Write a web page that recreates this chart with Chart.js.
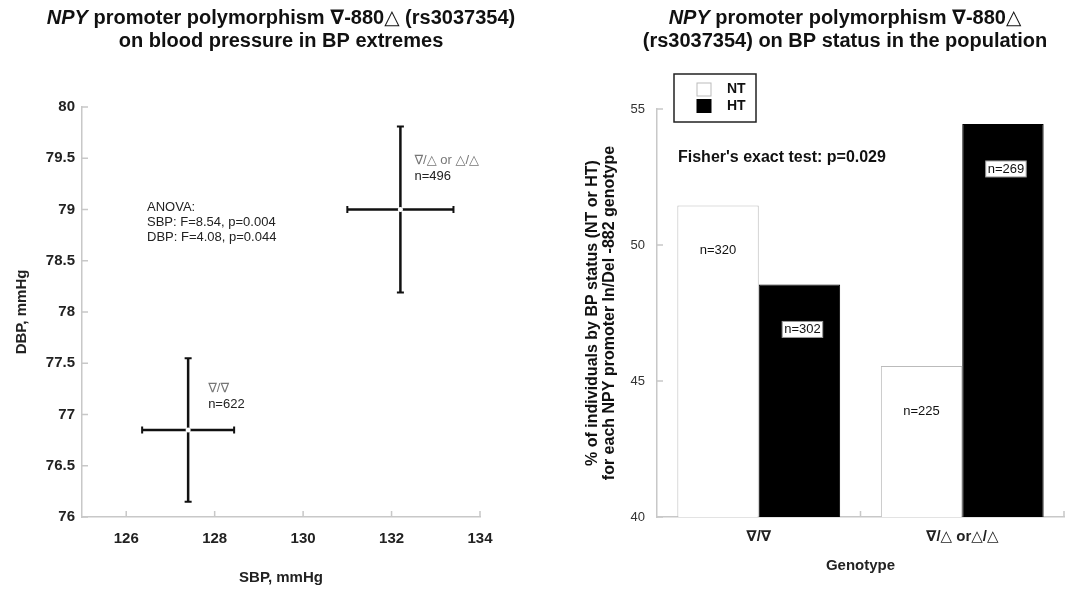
<!DOCTYPE html>
<html lang="en">
<head>
<meta charset="UTF-8">
<title>NPY promoter polymorphism -880 and blood pressure</title>
<script src="https://cdn.jsdelivr.net/npm/chart.js"></script>
<style>
    * { margin: 0; padding: 0; box-sizing: border-box; }
    body { background: #fff; width: 1065px; height: 590px; position: relative; overflow: hidden; }
    #bpChart { position: absolute; left: 0; top: 0; }
    #statusChart { position: absolute; left: 540px; top: 0; }
</style>
</head>
<body>
<canvas id="bpChart" width="540" height="590"></canvas>
<canvas id="statusChart" width="525" height="590"></canvas>
<script>
const FONT = '"Liberation Sans", Arial, "DejaVu Sans", sans-serif';

// left panel: mean SBP / DBP (with error) per genotype group
const groups = ['∇/∇', '∇/△ or △/△'];
const groupN = [622, 496];
const sbpMean = [127.4, 132.2];
const sbpErr = [1.04, 1.2];
const dbpMean = [76.85, 79.0];
const dbpErr = [0.7, 0.81];
const sbpTicks = [126, 128, 130, 132, 134];
const dbpTicks = [76, 76.5, 77, 77.5, 78, 78.5, 79, 79.5, 80];
const anovaLines = ['ANOVA:', 'SBP: F=8.54, p=0.004', 'DBP: F=4.08, p=0.044'];

// right panel: % NT / HT within each genotype
const genotypes = ['∇/∇', '∇/△ or△/△'];
const ntPct = [51.45, 45.55];
const htPct = [48.55, 54.45];
const ntN = [320, 225];
const htN = [302, 269];
const pctTicks = [40, 45, 50, 55];

const AXIS_GRAY = '#c8c8c8';

// title with italic "NPY"
const richTitle = {
    id: 'richTitle',
    afterDraw(chart, args, opts) {
        const ctx = chart.ctx;
        ctx.save();
        ctx.fillStyle = '#111';
        ctx.textBaseline = 'middle';
        ctx.textAlign = 'left';
        opts.lines.forEach((segs, i) => {
            let w = 0;
            segs.forEach(s => {
                ctx.font = (s.italic ? 'italic ' : '') + 'bold 20px ' + FONT;
                w += ctx.measureText(s.t).width;
            });
            let x = opts.cx - w / 2;
            segs.forEach(s => {
                ctx.font = (s.italic ? 'italic ' : '') + 'bold 20px ' + FONT;
                ctx.fillText(s.t, x, opts.y + i * 23);
                x += ctx.measureText(s.t).width;
            });
        });
        ctx.restore();
    }
};

// short tick marks pointing into the plot
const innerTicks = {
    id: 'innerTicks',
    afterDraw(chart) {
        const {ctx, chartArea: a, scales: {x, y}} = chart;
        ctx.save();
        ctx.strokeStyle = AXIS_GRAY;
        ctx.lineWidth = 1.5;
        ctx.beginPath();
        y.ticks.forEach(t => {
            const py = y.getPixelForValue(t.value);
            ctx.moveTo(a.left, py);
            ctx.lineTo(a.left + 6, py);
        });
        let xs;
        if (x.type === 'category') {
            const n = chart.data.labels.length;
            xs = [];
            for (let i = 1; i <= n; i++) xs.push(a.left + i * (a.right - a.left) / n);
        } else {
            xs = x.ticks.map(t => x.getPixelForValue(t.value));
        }
        xs.forEach(px => {
            ctx.moveTo(px, a.bottom);
            ctx.lineTo(px, a.bottom - 6);
        });
        ctx.stroke();
        ctx.restore();
    }
};

const errorBars = {
    id: 'errorBars',
    beforeDatasetsDraw(chart) {
        const {ctx, scales: {x, y}} = chart;
        ctx.save();
        ctx.strokeStyle = '#111';
        sbpMean.forEach((m, i) => {
            const cx = x.getPixelForValue(m);
            const cy = y.getPixelForValue(dbpMean[i]);
            const x0 = x.getPixelForValue(m - sbpErr[i]);
            const x1 = x.getPixelForValue(m + sbpErr[i]);
            const y0 = y.getPixelForValue(dbpMean[i] - dbpErr[i]);
            const y1 = y.getPixelForValue(dbpMean[i] + dbpErr[i]);
            ctx.lineWidth = 2.5;
            ctx.beginPath();
            ctx.moveTo(x0, cy); ctx.lineTo(x1, cy);
            ctx.moveTo(cx, y0); ctx.lineTo(cx, y1);
            ctx.stroke();
            ctx.lineWidth = 2;
            ctx.beginPath();
            ctx.moveTo(x0, cy - 3.5); ctx.lineTo(x0, cy + 3.5);
            ctx.moveTo(x1, cy - 3.5); ctx.lineTo(x1, cy + 3.5);
            ctx.moveTo(cx - 3.5, y0); ctx.lineTo(cx + 3.5, y0);
            ctx.moveTo(cx - 3.5, y1); ctx.lineTo(cx + 3.5, y1);
            ctx.stroke();
        });
        ctx.restore();
    },
    afterDraw(chart) {
        const {ctx, chartArea: a, scales: {x, y}} = chart;
        const offsets = [[20, -41], [14, -49]];
        ctx.save();
        ctx.font = '13px ' + FONT;
        ctx.textBaseline = 'middle';
        ctx.textAlign = 'left';
        groups.forEach((g, i) => {
            const px = x.getPixelForValue(sbpMean[i]) + offsets[i][0];
            const py = y.getPixelForValue(dbpMean[i]) + offsets[i][1];
            ctx.fillStyle = '#777';
            ctx.fillText(g, px, py);
            ctx.fillStyle = '#222';
            ctx.fillText('n=' + groupN[i], px, py + 16);
        });
        ctx.fillStyle = '#222';
        anovaLines.forEach((t, i) => ctx.fillText(t, a.left + 65, a.top + 100 + i * 15));
        ctx.restore();
    }
};

new Chart(document.getElementById('bpChart'), {
    type: 'scatter',
    data: {
        datasets: [{
            data: sbpMean.map((v, i) => ({x: v, y: dbpMean[i]})),
            pointRadius: 2.5,
            pointBackgroundColor: '#fff',
            pointBorderWidth: 0,
            showLine: false
        }]
    },
    options: {
        responsive: false,
        animation: false,
        layout: {padding: {top: 107, right: 60, left: 0, bottom: 0}},
        scales: {
            x: {
                type: 'linear',
                min: 125,
                max: 134,
                afterBuildTicks: s => { s.ticks = sbpTicks.map(v => ({value: v})); },
                afterFit: s => { s.height = 73; },
                grid: {display: false, drawTicks: false},
                border: {color: AXIS_GRAY, width: 1.5},
                ticks: {color: '#222', font: {family: FONT, size: 15, weight: 'bold'}, padding: 13},
                title: {display: true, text: 'SBP, mmHg', color: '#222',
                    font: {family: FONT, size: 15, weight: 'bold'}, padding: {top: 0, bottom: 3}}
            },
            y: {
                min: 76,
                max: 80,
                afterBuildTicks: s => { s.ticks = dbpTicks.map(v => ({value: v})); },
                afterFit: s => { s.width = 82; },
                grid: {display: false, drawTicks: false},
                border: {color: AXIS_GRAY, width: 1.5},
                ticks: {color: '#222', font: {family: FONT, size: 15, weight: 'bold'}, padding: 7,
                    callback: v => String(v)},
                title: {display: true, text: 'DBP, mmHg', color: '#222',
                    font: {family: FONT, size: 15, weight: 'bold'}, padding: {top: 13, bottom: 0}}
            }
        },
        plugins: {
            legend: {display: false},
            tooltip: {enabled: false},
            richTitle: {
                cx: 281, y: 18,
                lines: [
                    [{t: 'NPY', italic: true}, {t: ' promoter polymorphism ∇-880△ (rs3037354)'}],
                    [{t: 'on blood pressure in BP extremes'}]
                ]
            }
        }
    },
    plugins: [errorBars, innerTicks, richTitle]
});

// n= labels, legend box, Fisher text and y title for the bar panel
const barExtras = {
    id: 'barExtras',
    afterDatasetsDraw(chart) {
        const ctx = chart.ctx;
        const counts = [ntN, htN];
        ctx.save();
        ctx.font = '13px ' + FONT;
        ctx.textAlign = 'center';
        ctx.textBaseline = 'middle';
        chart.data.datasets.forEach((ds, d) => {
            chart.getDatasetMeta(d).data.forEach((bar, i) => {
                const t = 'n=' + counts[d][i];
                const px = bar.x + (d === 1 ? 3 : 0);
                const py = bar.y + 45;
                if (d === 1) {
                    const w = ctx.measureText(t).width + 4;
                    ctx.fillStyle = '#fff';
                    ctx.fillRect(px - w / 2, py - 8, w, 16);
                    ctx.strokeStyle = '#999';
                    ctx.lineWidth = 1;
                    ctx.strokeRect(px - w / 2, py - 8, w, 16);
                }
                ctx.fillStyle = '#111';
                ctx.fillText(t, px, py);
            });
        });
        ctx.restore();
    },
    afterDraw(chart) {
        const {ctx, chartArea: a} = chart;
        ctx.save();
        // legend
        ctx.strokeStyle = '#222';
        ctx.lineWidth = 1.5;
        ctx.strokeRect(134, 74, 82, 48);
        ctx.font = 'bold 14px ' + FONT;
        ctx.textBaseline = 'middle';
        ctx.textAlign = 'left';
        chart.data.datasets.forEach((ds, i) => {
            const y = 83 + i * 16.5;
            ctx.fillStyle = ds.backgroundColor;
            ctx.fillRect(157, y, 14, 13);
            ctx.strokeStyle = ds.borderColor;
            ctx.lineWidth = 1;
            ctx.strokeRect(157, y, 14, 13);
            ctx.fillStyle = '#111';
            ctx.fillText(ds.label, 187, y + 6.5);
        });
        ctx.font = 'bold 16px ' + FONT;
        ctx.fillText("Fisher's exact test: p=0.029", 138, 158);
        // y axis title
        ctx.font = 'bold 16px ' + FONT;
        ctx.translate(0, (a.top + a.bottom) / 2);
        ctx.rotate(-Math.PI / 2);
        ctx.textAlign = 'center';
        ctx.fillText('% of individuals by BP status (NT or HT)', 0, 53);
        ctx.fillText('for each NPY promoter In/Del -882 genotype', 0, 70);
        ctx.restore();
    }
};

new Chart(document.getElementById('statusChart'), {
    type: 'bar',
    data: {
        labels: genotypes,
        datasets: [{
            label: 'NT',
            data: ntPct,
            backgroundColor: '#fff',
            borderColor: '#bbb',
            borderWidth: 1
        }, {
            label: 'HT',
            data: htPct,
            backgroundColor: '#000',
            borderColor: '#000',
            borderWidth: 1
        }]
    },
    options: {
        responsive: false,
        animation: false,
        categoryPercentage: 0.8,
        barPercentage: 1,
        layout: {padding: {top: 109, right: 1, left: 0, bottom: 0}},
        scales: {
            x: {
                afterFit: s => { s.height = 73; },
                grid: {display: false, drawTicks: false},
                border: {color: AXIS_GRAY, width: 1.5},
                ticks: {color: '#222', font: {family: FONT, size: 15, weight: 'bold'}, padding: 11},
                title: {display: true, text: 'Genotype', color: '#222',
                    font: {family: FONT, size: 15, weight: 'bold'}, padding: {top: 0, bottom: 15}}
            },
            y: {
                min: 40,
                max: 55,
                afterBuildTicks: s => { s.ticks = pctTicks.map(v => ({value: v})); },
                afterFit: s => { s.width = 117; },
                grid: {display: false, drawTicks: false},
                border: {color: AXIS_GRAY, width: 1.5},
                ticks: {color: '#333', font: {family: FONT, size: 13}, padding: 12}
            }
        },
        plugins: {
            legend: {display: false},
            tooltip: {enabled: false},
            richTitle: {
                cx: 305, y: 18,
                lines: [
                    [{t: 'NPY', italic: true}, {t: ' promoter polymorphism ∇-880△'}],
                    [{t: '(rs3037354) on BP status in the population'}]
                ]
            }
        }
    },
    plugins: [barExtras, innerTicks, richTitle]
});
</script>
</body>
</html>
